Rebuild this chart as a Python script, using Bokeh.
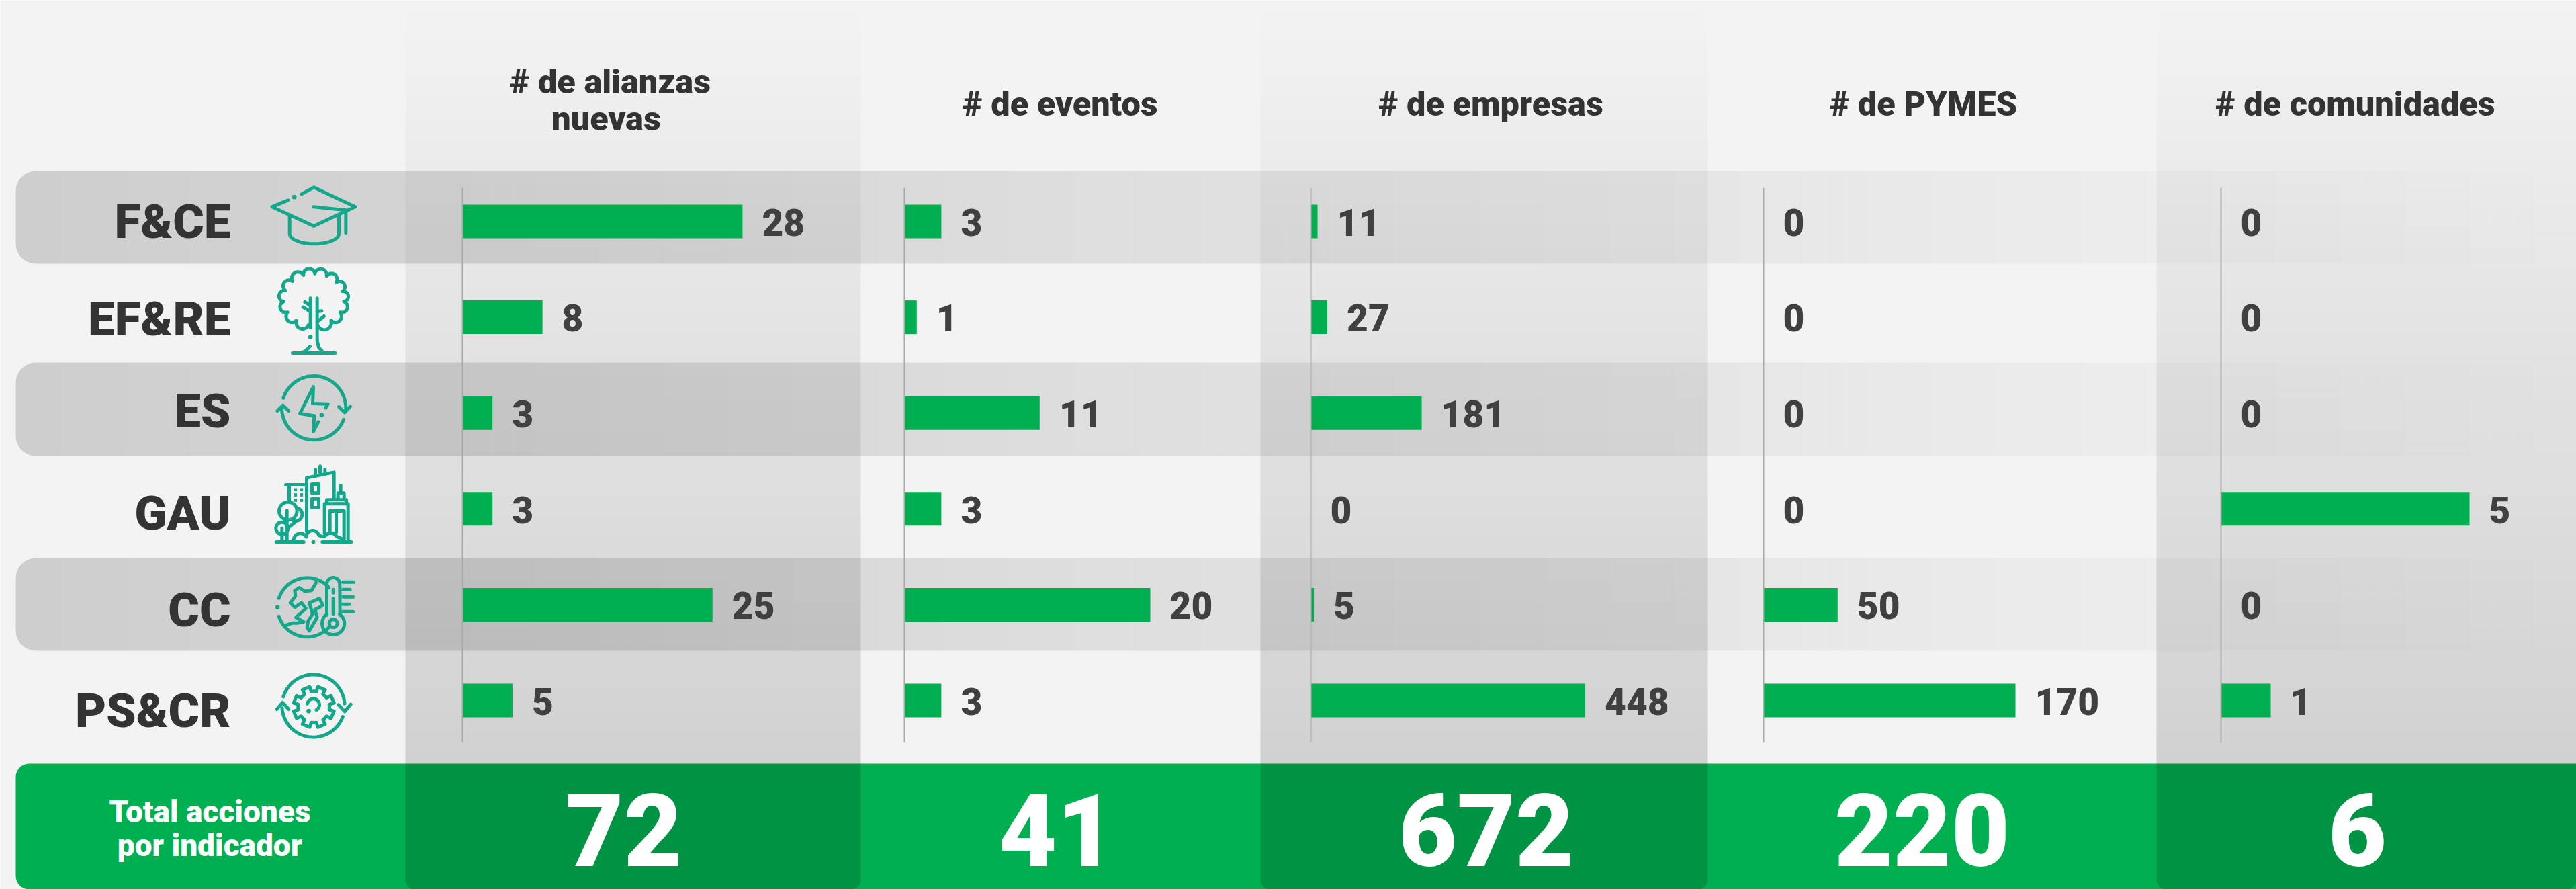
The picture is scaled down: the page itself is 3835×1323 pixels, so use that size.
import math
from bokeh.plotting import figure
from bokeh.models import Range1d, ColumnDataSource
from bokeh.core.properties import value
from bokeh.embed import file_html
from bokeh.resources import INLINE

# ---- data ----
CATEGORIES = ["F&CE", "EF&RE", "ES", "GAU", "CC", "PS&CR"]
INDICATORS = ["# de alianzas\nnuevas", "# de eventos", "# de empresas", "# de PYMES", "# de comunidades"]
ALIANZAS = [28, 8, 3, 3, 25, 5]
EVENTOS = [3, 1, 11, 3, 20, 3]
EMPRESAS = [11, 27, 181, 0, 5, 448]
PYMES = [0, 0, 0, 0, 50, 170]
COMUNIDADES = [0, 0, 0, 5, 0, 1]
TOTALS = ["72", "41", "672", "220", "6"]
TOTAL_LABEL = ["Total acciones", "por indicador"]

# ---- layout (reference pixels) ----
W, H = 3835, 1323
L, T, R, B = 0, 0, W, H
SERIES = [ALIANZAS, EVENTOS, EMPRESAS, PYMES, COMUNIDADES]
ZERO_PX = [688, 1346, 1951, 2625, 3306]
PX_PER_UNIT = [14.89, 18.3, 0.912, 2.206, 74.0]
ROW0, ROW_STEP = 329.0, 142.6
BANDS = [(254, 392), (539, 678), (830, 968)]
COLS_DARK = [(603, 1281), (1876, 2542), (3210, 3835)]
FOOT_TOP = 1136
LABEL_BASE = [355, 500, 637, 789, 933, 1083]
HEAD_X = [908, 1578, 2219, 2863, 3506]
TOTAL_X = [928, 1573, 2212, 2861, 3509]
BASE_FIX = 0.36   # svg text sits this many ems below the asked alphabetic line

BG = "#f3f3f3"
GREEN = "#00b050"
ICON = "#13a88c"
BLACKISH = "#333333"
NUM = "#404040"
FONT = "Roboto"
HEAVY = "Roboto Black"

p = figure(width=W, height=H, x_range=Range1d(L, R), y_range=Range1d(B, T),
           output_backend="svg", toolbar_location=None, min_border=0,
           background_fill_color=BG, border_fill_color=BG, outline_line_color=None)
p.axis.visible = False
p.grid.visible = False

for i, (z, s) in enumerate(zip(ZERO_PX, PX_PER_UNIT)):
    p.extra_x_ranges[f"c{i}"] = Range1d((L - z) / s, (R - z) / s)
p.extra_y_ranges["rows"] = Range1d((B - ROW0) / ROW_STEP, (T - ROW0) / ROW_STEP)


def corner(cx, cy, r, a0, a1, n=10):
    return [(cx + r * math.cos(math.radians(a0 + (a1 - a0) * k / n)),
             cy + r * math.sin(math.radians(a0 + (a1 - a0) * k / n))) for k in range(n + 1)]


# row bands: black, fading from left to right
def band_alpha(x):
    return 0.15 * (1 - (x - 23) / 3812)


for y0, y1 in BANDS:
    r = 30
    pts = corner(23 + r, y0 + r, r, 180, 270) + [(60, y0), (60, y1)] + corner(23 + r, y1 - r, r, 90, 180)
    p.patch([a for a, _ in pts], [b for _, b in pts], fill_color="black", fill_alpha=band_alpha(40),
            line_color=None)
    xs = list(range(60, W, 32))
    p.quad(left=xs, right=[x + 32 for x in xs], top=[y0] * len(xs), bottom=[y1] * len(xs),
           fill_color="black", fill_alpha=[band_alpha(x + 16) for x in xs], line_color=None)

# footer
r = 20
pts = corner(23 + r, FOOT_TOP + r, r, 180, 270) + [(W, FOOT_TOP), (W, H)] + corner(23 + r, H - r, r, 90, 180)
p.patch([a for a, _ in pts], [b for _, b in pts], fill_color=GREEN, line_color=None)


# dark columns: black, growing from top to bottom
def col_alpha(y):
    return 0.16 * y / H


for x0, x1 in COLS_DARK:
    ys = list(range(0, FOOT_TOP, 16))
    p.quad(left=[x0] * len(ys), right=[x1] * len(ys), top=ys, bottom=[min(y + 16, FOOT_TOP) for y in ys],
           fill_color="black", fill_alpha=[col_alpha(y + 8) for y in ys], line_color=None)
    r = 14
    pts = [(x0, FOOT_TOP), (x1, FOOT_TOP)] + corner(x1 - r, H - r, r, 0, 90) + corner(x0 + r, H - r, r, 90, 180)
    p.patch([a for a, _ in pts], [b for _, b in pts], fill_color="black", fill_alpha=0.16, line_color=None)

# bars, value labels, axis lines
VAL_SIZE = 55
rows = list(range(len(CATEGORIES)))
for i, vals in enumerate(SERIES):
    src = ColumnDataSource(dict(y=rows, v=vals, t=[str(v) for v in vals]))
    name = f"c{i}"
    p.hbar(y="y", left=0, right="v", height=50 / ROW_STEP, source=src, fill_color=GREEN, line_color=None,
           x_range_name=name, y_range_name="rows")
    p.segment(x0=[0], x1=[0], y0=[279], y1=[1104], line_color="#a9a9a9", line_width=2, x_range_name=name)
    p.text(x="v", y="y", text="t", source=src, x_range_name=name, y_range_name="rows",
           x_offset=29, y_offset=21 - BASE_FIX * VAL_SIZE, text_baseline="alphabetic", text_align="left",
           text_color=NUM, text_font=value(HEAVY), text_font_size=f"{VAL_SIZE}px")


def label(t, x, y, size, color, font=HEAVY, align="center", style="normal"):
    p.text(x=[x], y=[y - BASE_FIX * size], text=[t], text_align=align, text_baseline="alphabetic",
           text_color=color, text_font=value(font), text_font_style=style, text_font_size=f"{size}px")


for cat, base in zip(CATEGORIES, LABEL_BASE):
    label(cat, 343, base, 71, BLACKISH, align="right")
for head, cx in zip(INDICATORS, HEAD_X):
    lines = head.split("\n")
    ys = [139, 194] if len(lines) == 2 else [172]
    xs = [cx, cx - 6] if len(lines) == 2 else [cx]
    for line, x, y in zip(lines, xs, ys):
        label(line, x, y, 50.5, BLACKISH)
for t, cx in zip(TOTALS, TOTAL_X):
    label(t, cx, 1288, 150, "white")
for line, y in zip(TOTAL_LABEL, [1224, 1274]):
    label(line, 312, y, 46, "white")

# ---- icons, traced in zoomed-crop coordinates ----
LW = 5


def arc(cx, cy, r, a0, a1, ry=None, n=30):
    ry = r if ry is None else ry
    return [(cx + r * math.cos(math.radians(a0 + (a1 - a0) * k / n)),
             cy + ry * math.sin(math.radians(a0 + (a1 - a0) * k / n))) for k in range(n + 1)]


def icon(ox, oy, paths, dots=(), squares=(), lw=LW):
    f = lambda q: [(ox + a / 3, oy + b / 3) for a, b in q]
    xs, ys = [], []
    for path in paths:
        q = f(path)
        xs.append([a for a, _ in q])
        ys.append([b for _, b in q])
    p.multi_line(xs, ys, line_color=ICON, line_width=lw, line_cap="round", line_join="round")
    for a, b, rad in dots:
        p.circle(x=[ox + a / 3], y=[oy + b / 3], radius=rad / 3, fill_color=ICON, line_color=None)
    if squares:
        p.quad(left=[ox + (a - 7) / 3 for a, b in squares], right=[ox + (a + 7) / 3 for a, b in squares],
               top=[oy + (b - 7) / 3 for a, b in squares], bottom=[oy + (b + 7) / 3 for a, b in squares],
               fill_color=ICON, line_color=None)


# graduation cap
icon(360, 250, [
    [(205, 142), (133, 172), (320, 258), (505, 172), (320, 85), (265, 115)],
    [(318, 172), (465, 187)],
    [(463, 195), (463, 288)],
    [(212, 212), (212, 292)] + arc(322, 292, 110, 180, 0, ry=45) + [(432, 212)],
], dots=[(233, 128, 10)])

# tree
angs = [100, 125, 150, 175, 200, 225, 250, 272, 295, 318, 342, 365, 390, 415, 443]
crown = []
for a0, a1 in zip(angs[:-1], angs[1:]):
    x0, y0 = 320 + 135 * math.cos(math.radians(a0)), 585 + 115 * math.sin(math.radians(a0))
    x1, y1 = 320 + 135 * math.cos(math.radians(a1)), 585 + 115 * math.sin(math.radians(a1))
    mx, my = (x0 + x1) / 2, (y0 + y1) / 2
    ch = math.hypot(x1 - x0, y1 - y0) / 2
    base = math.degrees(math.atan2(y1 - y0, x1 - x0))
    crown += arc(mx, my, ch, base + 180, base + 360, n=8)
icon(360, 250, [
    crown,
    [(335, 580), (335, 770), (342, 800), (362, 822)],
    [(305, 580), (305, 712)],
    [(280, 597), (305, 612)],
    [(272, 620), (305, 640)],
    [(335, 640), (355, 637)],
    [(335, 685), (366, 660)],
    [(225, 825), (415, 825)],
    [(262, 825), (285, 815), (303, 795)],
], dots=[(305, 753, 10)])

# energy
icon(380, 540, [
    arc(260, 200, 143, 198, 366),
    [(372, 195), (398, 220), (423, 193)],
    arc(260, 200, 143, 21, 182),
    [(97, 213), (122, 188), (148, 213)],
    [(313, 200), (323, 182), (255, 180), (258, 105), (198, 225), (262, 235), (258, 305), (280, 262)],
], dots=[(295, 232, 10)])

# city
icon(360, 670, [
    [(152, 408), (275, 408)],
    [(358, 408), (488, 408)],
    [(288, 362), (288, 122), (410, 97), (410, 215)],
    [(327, 105), (327, 85)], [(348, 100), (348, 70)], [(370, 97), (370, 85)],
    [(312, 150), (342, 150), (342, 190), (312, 190), (312, 150)],
    [(312, 215), (342, 215), (342, 255), (312, 255), (312, 215)],
    [(195, 153), (285, 153)], [(210, 153), (210, 225)],
    [(368, 370), (368, 238), (473, 238), (473, 398)],
    [(378, 238), (378, 220), (465, 220), (465, 238)],
    [(428, 220), (428, 190), (455, 190), (455, 220)],
    [(440, 190), (440, 155)],
    [(392, 270), (455, 270), (455, 395)],
    [(392, 270), (392, 365)], [(420, 270), (420, 365)],
    arc(205, 270, 40, 0, 360),
    arc(238, 285, 30, -60, 110),
    arc(178, 347, 27, 0, 360),
    [(200, 268), (200, 403)], [(178, 347), (178, 403)], [(205, 345), (235, 322)],
    arc(260, 400, 30, 180, 330),
    arc(315, 385, 28, 195, 345),
    [(345, 380), (365, 385), (385, 370), (405, 368), (425, 385), (445, 393)],
], dots=[(318, 408, 9)],
    squares=[(238, 175), (265, 175), (238, 198), (265, 198), (238, 222), (265, 222)])

# globe + thermometer
icon(360, 670, [
    arc(290, 700, 132, 198, 318),
    arc(290, 700, 132, 40, 162),
    [(330, 590), (310, 625), (280, 628), (255, 612), (235, 625), (238, 650), (215, 680), (235, 700),
     (265, 680), (285, 705), (240, 745), (275, 765), (250, 770), (225, 770), (190, 782)],
    [(300, 680), (345, 660), (360, 690), (345, 700), (325, 710), (335, 745), (300, 805), (290, 790),
     (295, 760), (315, 730), (300, 680)],
    [(378, 735)] + arc(407, 596, 29, 180, 360) + [(437, 735)],
    arc(407, 772, 50, -55, 235),
    arc(407, 772, 18, 0, 360),
    [(407, 620), (407, 635)], [(407, 660), (407, 730)],
    [(450, 587), (498, 587)], [(450, 620), (482, 620)], [(450, 653), (495, 653)],
    [(450, 686), (478, 686)], [(450, 719), (495, 719)],
], dots=[(158, 700, 10)])

# gear
gear = []
for k in range(8):
    a = 22.5 + k * 45
    for da, rad in [(-24, 70), (-13, 70), (-11, 92), (11, 92), (13, 70), (24, 70)]:
        gear.append((320 + rad * math.cos(math.radians(a + da)), 1145 + rad * math.sin(math.radians(a + da))))
gear.append(gear[0])
icon(360, 670, [
    arc(318, 1140, 140, 197, 356),
    [(430, 1135), (458, 1165), (485, 1133)],
    arc(318, 1140, 140, 20, 176),
    [(155, 1155), (180, 1125), (208, 1155)],
    gear,
    arc(318, 1135, 27, 190, 420),
], dots=[(297, 1163, 10)])

open("out.html", "w").write(file_html(p, INLINE))
